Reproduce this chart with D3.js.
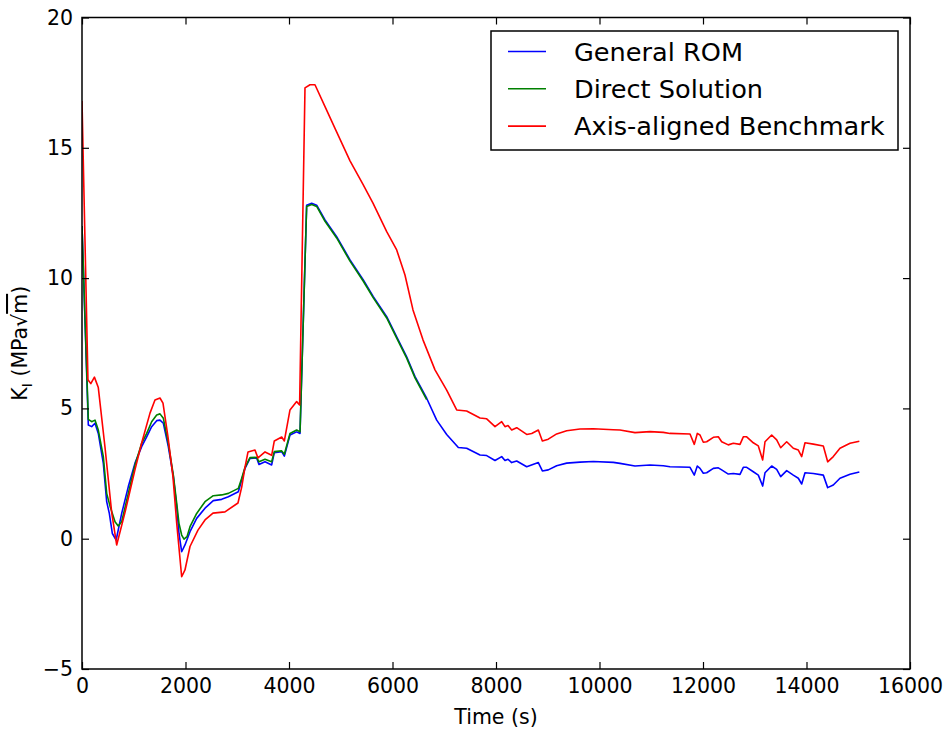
<!DOCTYPE html>
<html>
<head>
<meta charset="utf-8">
<script src="https://cdn.jsdelivr.net/npm/d3@7"></script>
<style>
  html, body { margin: 0; padding: 0; background: #fff; }
  svg { display: block; font-family: "DejaVu Sans", sans-serif; }
</style>
</head>
<body>
<svg id="chart" width="950" height="732"></svg>
<script>
// Stress intensity factor K_I over time for three solution methods

const xTicks = [0, 2000, 4000, 6000, 8000, 10000, 12000, 14000, 16000];
const yTicks = [-5, 0, 5, 10, 15, 20];

const seriesNames = ["General ROM", "Direct Solution", "Axis-aligned Benchmark"];
const seriesColors = ["#0000ff", "#008000", "#ff0000"];

// General ROM
const romTime = [0, 122, 187, 251, 315, 412, 477, 528, 586, 660, 767, 895, 1024, 1153, 1250, 1346, 1443, 1507, 1572, 1668, 1765, 1830, 1874, 1926, 1990, 2087, 2216, 2377, 2537, 2699, 2828, 3021, 3086, 3150, 3246, 3375, 3420, 3536, 3665, 3716, 3859, 3910, 4019, 4148, 4213, 4341, 4438, 4535, 4696, 4921, 5179, 5436, 5629, 5888, 6081, 6274, 6435, 6660, 6854, 7047, 7272, 7433, 7691, 7820, 7981, 8110, 8174, 8232, 8303, 8400, 8593, 8818, 8896, 9010, 9172, 9366, 9623, 9881, 10267, 10396, 10686, 10976, 11233, 11362, 11749, 11832, 11890, 11942, 12006, 12071, 12200, 12296, 12361, 12489, 12586, 12715, 12779, 12844, 12972, 13069, 13153, 13198, 13327, 13424, 13501, 13617, 13745, 13842, 13907, 13971, 14132, 14325, 14409, 14518, 14647, 14841, 15021];
const romK = [12.0, 4.36, 4.3, 4.43, 4.04, 2.89, 1.42, 0.97, 0.2, -0.05, 0.97, 2.0, 2.9, 3.53, 3.91, 4.3, 4.53, 4.55, 4.43, 3.53, 2.38, 1.23, 0.2, -0.5, -0.24, 0.27, 0.78, 1.17, 1.46, 1.51, 1.61, 1.8, 2.25, 2.7, 3.08, 3.1, 2.85, 2.95, 2.83, 3.3, 3.34, 3.17, 3.98, 4.1, 4.04, 12.8, 12.87, 12.8, 12.23, 11.59, 10.7, 9.93, 9.29, 8.52, 7.75, 6.98, 6.22, 5.39, 4.55, 4.0, 3.5, 3.47, 3.21, 3.19, 3.0, 3.15, 3.0, 3.05, 2.92, 2.98, 2.76, 2.92, 2.6, 2.64, 2.8, 2.9, 2.94, 2.96, 2.93, 2.89, 2.79, 2.83, 2.8, 2.76, 2.74, 2.44, 2.79, 2.7, 2.51, 2.53, 2.7, 2.72, 2.64, 2.48, 2.5, 2.47, 2.74, 2.74, 2.57, 2.44, 2.02, 2.53, 2.79, 2.66, 2.38, 2.61, 2.44, 2.32, 2.1, 2.53, 2.5, 2.44, 1.96, 2.06, 2.32, 2.47, 2.56];

// Direct Solution (computed up to ~6700 s)
const directTime = [0, 122, 187, 251, 315, 412, 477, 544, 638, 700, 767, 895, 1024, 1153, 1250, 1346, 1443, 1507, 1572, 1668, 1765, 1830, 1874, 1926, 1971, 2029, 2087, 2216, 2377, 2537, 2699, 2828, 3021, 3086, 3150, 3246, 3375, 3420, 3536, 3665, 3716, 3859, 3910, 4019, 4148, 4213, 4341, 4438, 4535, 4696, 4921, 5179, 5436, 5629, 5888, 6081, 6274, 6435, 6660];
const directK = [12.0, 4.58, 4.49, 4.55, 4.17, 3.15, 1.74, 1.23, 0.65, 0.49, 0.65, 1.74, 2.83, 3.66, 4.04, 4.49, 4.75, 4.79, 4.62, 3.66, 2.44, 1.36, 0.59, 0.14, -0.02, 0.08, 0.46, 0.97, 1.42, 1.65, 1.68, 1.74, 1.93, 2.32, 2.74, 3.11, 3.12, 2.95, 3.05, 2.95, 3.34, 3.37, 3.24, 4.04, 4.17, 4.1, 12.75, 12.82, 12.75, 12.18, 11.54, 10.65, 9.88, 9.24, 8.47, 7.7, 6.93, 6.17, 5.34];

// Axis-aligned Benchmark
const benchTime = [0, 115, 170, 240, 315, 445, 574, 670, 830, 1024, 1153, 1314, 1410, 1507, 1565, 1662, 1758, 1830, 1926, 1990, 2087, 2241, 2377, 2531, 2763, 3014, 3086, 3150, 3208, 3343, 3401, 3537, 3665, 3716, 3859, 3910, 4019, 4148, 4205, 4309, 4406, 4502, 4696, 4900, 5179, 5430, 5623, 5888, 6081, 6241, 6396, 6589, 6821, 7047, 7240, 7433, 7691, 7820, 7981, 8110, 8174, 8232, 8303, 8400, 8593, 8690, 8818, 8896, 9010, 9172, 9366, 9623, 9881, 10267, 10396, 10686, 10976, 11233, 11362, 11749, 11832, 11890, 11942, 12006, 12071, 12200, 12296, 12361, 12489, 12586, 12715, 12779, 12844, 12972, 13069, 13153, 13198, 13327, 13424, 13501, 13617, 13745, 13842, 13907, 13971, 14132, 14325, 14409, 14518, 14647, 14841, 15021];
const benchK = [16.8, 6.1, 5.95, 6.2, 5.8, 3.5, 1.0, -0.24, 1.0, 2.65, 3.67, 4.82, 5.32, 5.4, 5.2, 3.9, 2.37, 0.6, -1.46, -1.2, -0.3, 0.33, 0.72, 0.98, 1.03, 1.37, 1.98, 2.75, 3.33, 3.4, 3.1, 3.33, 3.2, 3.75, 3.9, 3.75, 4.94, 5.26, 5.13, 17.3, 17.42, 17.42, 16.58, 15.7, 14.5, 13.6, 12.88, 11.78, 11.08, 10.12, 8.78, 7.63, 6.48, 5.7, 4.94, 4.9, 4.63, 4.6, 4.3, 4.49, 4.3, 4.34, 4.17, 4.26, 4.0, 4.04, 4.17, 3.75, 3.82, 4.02, 4.14, 4.21, 4.22, 4.18, 4.17, 4.07, 4.11, 4.08, 4.04, 4.02, 3.62, 4.04, 3.98, 3.7, 3.72, 3.89, 3.91, 3.72, 3.6, 3.66, 3.62, 3.91, 3.91, 3.68, 3.56, 3.02, 3.72, 3.98, 3.79, 3.49, 3.72, 3.47, 3.4, 3.15, 3.68, 3.63, 3.56, 2.95, 3.15, 3.47, 3.66, 3.74];

const series = [
  { name: seriesNames[0], color: seriesColors[0], t: romTime, k: romK },
  { name: seriesNames[1], color: seriesColors[1], t: directTime, k: directK },
  { name: seriesNames[2], color: seriesColors[2], t: benchTime, k: benchK }
];

const svg = d3.select("#chart");
const plot = { left: 82, right: 910, top: 17.5, bottom: 669 };

const x = d3.scaleLinear().domain([0, 16000]).range([plot.left, plot.right]);
const y = d3.scaleLinear().domain([-5, 20]).range([plot.bottom, plot.top]);

const tickFont = 20.5;
const fmt = d3.format("d");
const minusFmt = v => (v < 0 ? "\u2212" + fmt(-v) : fmt(v));

// clip region for the data lines
svg.append("defs").append("clipPath").attr("id", "plotClip")
  .append("rect")
  .attr("x", plot.left).attr("y", plot.top)
  .attr("width", plot.right - plot.left).attr("height", plot.bottom - plot.top);

// data lines
const line = d3.line().x(d => x(d[0])).y(d => y(d[1]));
const lines = svg.append("g").attr("clip-path", "url(#plotClip)");
series.forEach(s => {
  const pts = s.t.map((t, i) => [t, s.k[i]]);
  lines.append("path")
    .attr("d", line(pts))
    .attr("fill", "none")
    .attr("stroke", s.color)
    .attr("stroke-width", 1.6)
    .attr("stroke-linejoin", "round");
});

// axes with inward ticks
function styleAxis(g, showLabels) {
  g.select(".domain").remove();
  g.selectAll(".tick line").attr("stroke", "#000").attr("stroke-width", 1.2);
  g.selectAll(".tick text")
    .attr("fill", "#000")
    .style("font-family", "'DejaVu Sans', sans-serif")
    .style("font-size", tickFont + "px");
  if (!showLabels) g.selectAll(".tick text").remove();
}

svg.append("g")
  .attr("transform", `translate(0,${plot.bottom})`)
  .call(d3.axisBottom(x).tickValues(xTicks).tickFormat(fmt).tickSize(-7).tickPadding(9))
  .call(g => styleAxis(g, true));

svg.append("g")
  .attr("transform", `translate(0,${plot.top})`)
  .call(d3.axisTop(x).tickValues(xTicks).tickSize(-7))
  .call(g => styleAxis(g, false));

svg.append("g")
  .attr("transform", `translate(${plot.left},0)`)
  .call(d3.axisLeft(y).tickValues(yTicks).tickFormat(minusFmt).tickSize(-7).tickPadding(9))
  .call(g => styleAxis(g, true));

svg.append("g")
  .attr("transform", `translate(${plot.right},0)`)
  .call(d3.axisRight(y).tickValues(yTicks).tickSize(-7))
  .call(g => styleAxis(g, false));

// frame
svg.append("rect")
  .attr("x", plot.left).attr("y", plot.top)
  .attr("width", plot.right - plot.left).attr("height", plot.bottom - plot.top)
  .attr("fill", "none").attr("stroke", "#000").attr("stroke-width", 1.5);

// axis titles
svg.append("text")
  .attr("x", (plot.left + plot.right) / 2)
  .attr("y", 724)
  .attr("text-anchor", "middle")
  .style("font-size", tickFont + "px")
  .text("Time (s)");

const yTitle = svg.append("text")
  .attr("transform", `translate(27,${(plot.top + plot.bottom) / 2}) rotate(-90)`)
  .attr("text-anchor", "middle")
  .style("font-size", tickFont + "px");
yTitle.append("tspan").text("K");
yTitle.append("tspan").attr("dy", 5).style("font-size", "14px").text("I");
yTitle.append("tspan").attr("dy", -5).text(" (MPa");
yTitle.append("tspan").text("\u221A");
yTitle.append("tspan").style("text-decoration", "overline").text("m");
yTitle.append("tspan").text(")");

// legend
const legend = { x: 491, y: 31, w: 407, h: 119, rowH: 37.3, firstRow: 51.5 };
const lg = svg.append("g");
lg.append("rect")
  .attr("x", legend.x).attr("y", legend.y)
  .attr("width", legend.w).attr("height", legend.h)
  .attr("fill", "#fff").attr("stroke", "#000").attr("stroke-width", 1.5);
series.forEach((s, i) => {
  const cy = legend.firstRow + i * legend.rowH;
  lg.append("line")
    .attr("x1", 508).attr("x2", 546).attr("y1", cy).attr("y2", cy)
    .attr("stroke", s.color).attr("stroke-width", 1.6);
  lg.append("text")
    .attr("x", 574).attr("y", cy)
    .attr("dy", "0.36em")
    .style("font-size", "25.6px")
    .text(s.name);
});
</script>
</body>
</html>
